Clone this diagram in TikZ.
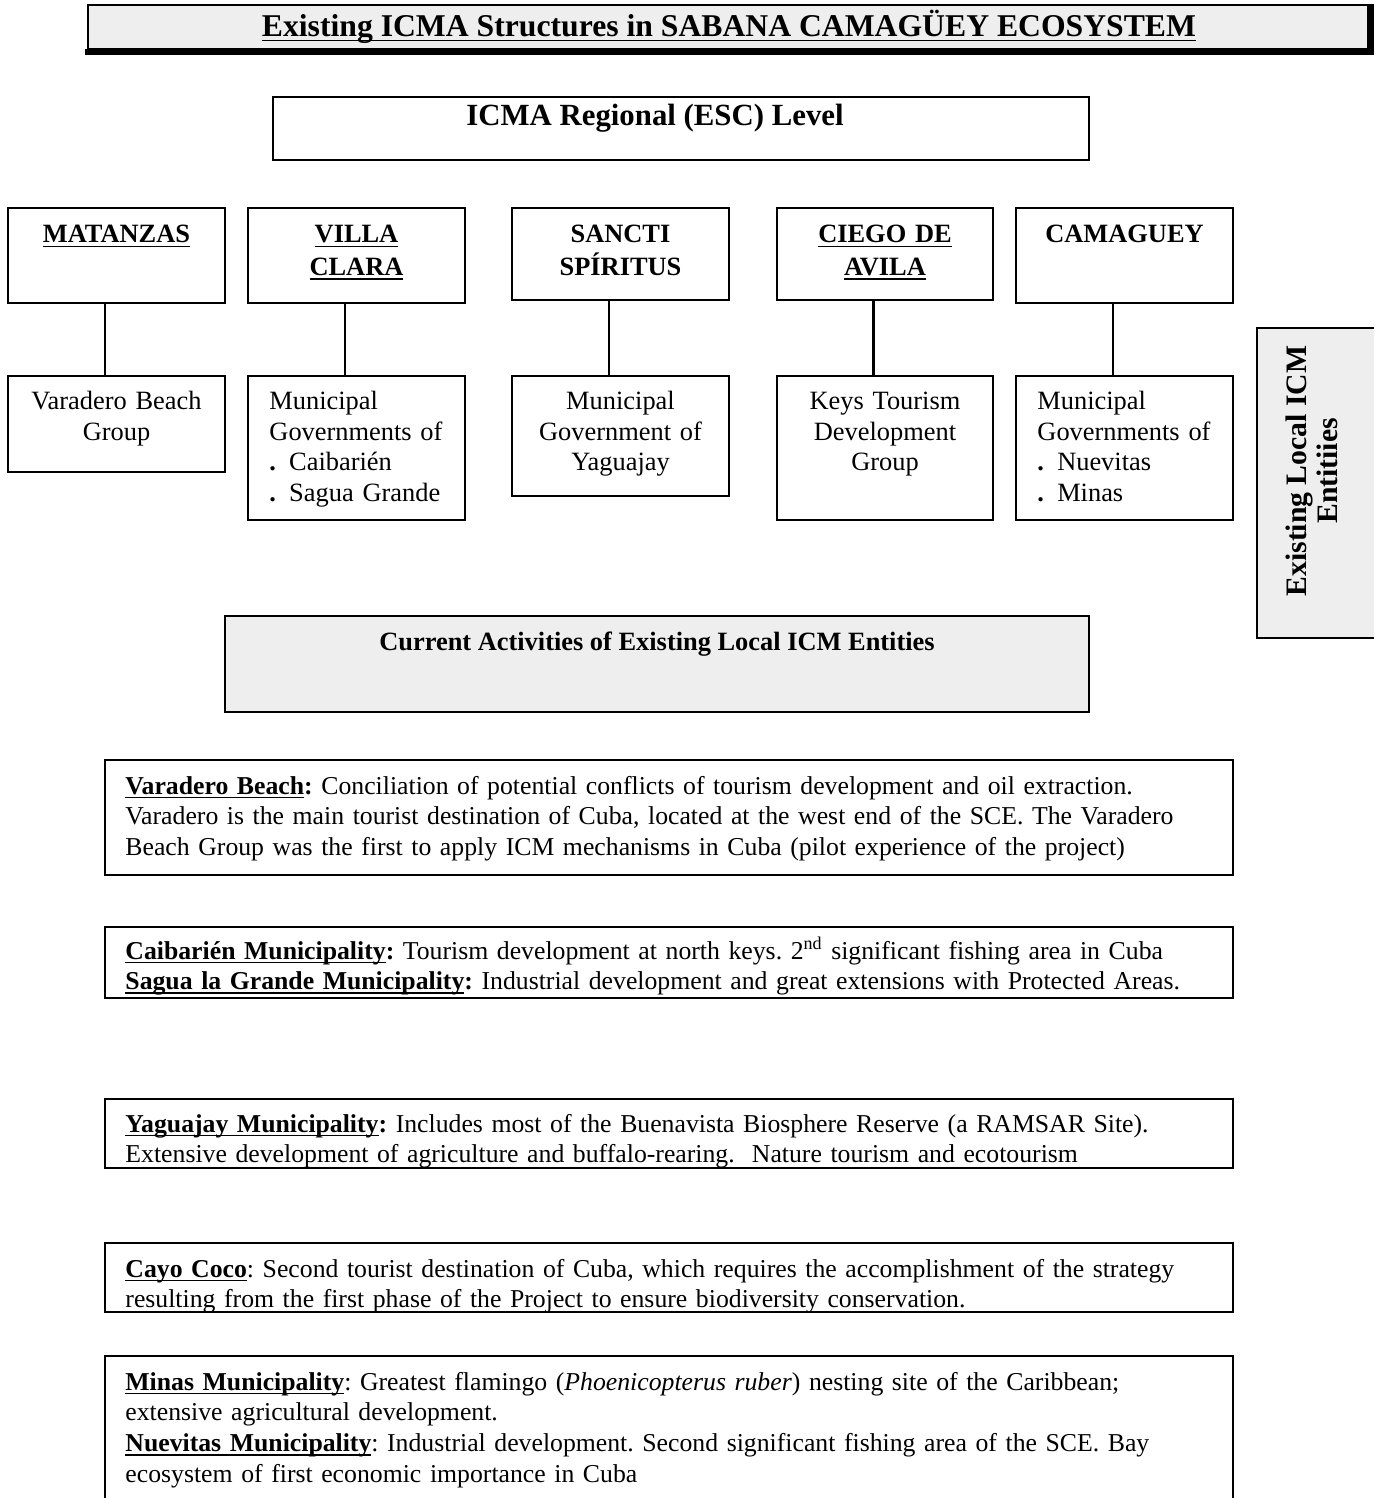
\documentclass[tikz,border=0pt]{standalone}
\usepackage{fontspec}
\setmainfont{Liberation Serif}
\usetikzlibrary{fit}
\definecolor{boxgray}{HTML}{EEEEEE}
\newcommand\myul[1]{\leavevmode\setbox0\hbox{#1}\rlap{\rule[-2pt]{\wd0}{0.8pt}}\box0}
\tikzset{
  px/.style={x=0.4545pt,y=-0.4545pt},
  box/.style={draw=black,line width=1.1pt,inner sep=0pt,fill=white},
  graybox/.style={box,fill=boxgray},
  conn/.style={draw=black,line width=1.1pt},
  txt/.style={font=\fontsize{12}{13.8}\selectfont,inner sep=0pt},
  btxt/.style={inner sep=0pt,font=\fontsize{12}{14.6}\selectfont\bfseries},
  ctxt/.style={txt,text width=200*0.4545pt,align=center,anchor=base},
  ltxt/.style={txt,text width=200*0.4545pt,align=left,anchor=base west},
  hdtxt/.style={btxt,text width=210*0.4545pt,align=center,anchor=base},
  para/.style={inner sep=0pt,font=\fontsize{11.7}{14}\selectfont\frenchspacing,text width=1110*0.4545pt,align=left,anchor=base west},
}
\begin{document}
\begin{tikzpicture}[px]
\useasboundingbox (0,0) rectangle (1374,1498);
% title
\node[fit={(88,5) (1368,49)},inner sep=0pt,fill=boxgray,draw=black,line width=1.1pt] (title) {};
\draw[line width=2.4pt] ([xshift=0.8pt]title.north east) -- ([xshift=0.8pt,yshift=-0.8pt]title.south east) -- ([xshift=-0.8pt,yshift=-0.8pt]title.south west);
\node[font=\fontsize{14.4}{16}\selectfont\bfseries,inner sep=0pt,anchor=base] (titletxt) at (729,37) {\myul{Existing ICMA Structures in SABANA CAMAGÜEY ECOSYSTEM}};
% regional
\node[box,fit={(273,97) (1089,160)}] (reg) {};
\node[btxt,anchor=base,font=\fontsize{14}{16}\selectfont\bfseries] (regtxt) at (655,126) {ICMA Regional (ESC) Level};
% row 1
\node[box,fit={(8,208) (225,303)}] (mat) {};
\node[box,fit={(248,208) (465,303)}] (vc) {};
\node[box,fit={(512,208) (729,300)}] (ss) {};
\node[box,fit={(777,208) (993,300)}] (cda) {};
\node[box,fit={(1016,208) (1233,303)}] (cam) {};
\node[hdtxt] (mattxt) at (116.5,243) {\myul{MATANZAS}};
\node[hdtxt] (vctxt) at (356.5,243) {\myul{VILLA}\\\myul{CLARA}};
\node[hdtxt] (sstxt) at (620.5,243) {SANCTI\\SPÍRITUS};
\node[hdtxt] (cdatxt) at (885,243) {\myul{CIEGO DE}\\\myul{AVILA}};
\node[hdtxt] (camtxt) at (1124.5,243) {CAMAGUEY};
% row 2
\node[box,fit={(8,376) (225,472)}] (matb) {};
\node[box,fit={(248,376) (465,520)}] (vcb) {};
\node[box,fit={(512,376) (729,496)}] (ssb) {};
\node[box,fit={(777,376) (993,520)}] (cdab) {};
\node[box,fit={(1016,376) (1233,520)}] (camb) {};
\node[ctxt] (matbtxt) at (116.5,410) {Varadero Beach\\Group};
\node[ltxt] (vcbtxt) at (269,410) {Municipal\\Governments of\\\textbf{.} Caibarién\\\textbf{.} Sagua Grande};
\node[ctxt] (ssbtxt) at (620.5,410) {Municipal\\Government of\\Yaguajay};
\node[ctxt] (cdabtxt) at (885,410) {Keys Tourism\\Development\\Group};
\node[ltxt] (cambtxt) at (1037,410) {Municipal\\Governments of\\\textbf{.} Nuevitas\\\textbf{.} Minas};
% connectors
\draw[conn] ([xshift=-5.2pt]mat.south) -- ([xshift=-5.2pt]matb.north);
\draw[conn] ([xshift=-5.2pt]vc.south) -- ([xshift=-5.2pt]vcb.north);
\draw[conn] ([xshift=-5.2pt]ss.south) -- ([xshift=-5.2pt]ssb.north);
\draw[conn] ([xshift=-5.2pt]cda.south) -- ([xshift=-5.2pt]cdab.north);
\draw[conn] ([xshift=-5.2pt]cam.south) -- ([xshift=-5.2pt]camb.north);
% side box
\fill[boxgray] (1257,328) rectangle (1374,638);
\coordinate (sidetr) at (1374,328);
\coordinate (sidebr) at (1374,638);
\draw[line width=1.1pt] (sidetr) -- (1257,328) -- (1257,638) -- (sidebr);
\node[rotate=90,align=center,inner sep=0pt,font=\fontsize{13.5}{14}\selectfont\bfseries] (sidetxt) at (1312,471) {Existing Local ICM\\Entitiies};
% current activities
\node[graybox,fit={(225,616) (1089,712)}] (cur) {};
\node[btxt,anchor=base] (curtxt) at (657,650) {Current Activities of Existing Local ICM Entities};
% activity boxes
\node[box,fit={(105,760) (1233,875)}] (a1) {};
\node[box,fit={(105,927) (1233,998)}] (a2) {};
\node[box,fit={(105,1099) (1233,1168)}] (a3) {};
\node[box,fit={(105,1243) (1233,1312)}] (a4) {};
\fill[white] (105,1356) rectangle (1233,1498);
\coordinate (a5bl) at (105,1500);
\coordinate (a5br) at (1233,1500);
\draw[line width=1.1pt] (a5bl) -- (105,1356) -- (1233,1356) -- (a5br);
\node[para] (a1txt) at (125,794) {\textbf{\myul{Varadero Beach}:} Conciliation of potential conflicts of tourism development and oil extraction.\\Varadero is the main tourist destination of Cuba, located at the west end of the SCE. The Varadero\\Beach Group was the first to apply ICM mechanisms in Cuba (pilot experience of the project)};
\node[para] (a2txt) at (125,959) {\textbf{\myul{Caibarién Municipality}:} Tourism development at north keys. 2\textsuperscript{nd} significant fishing area in Cuba\\\textbf{\myul{Sagua la Grande Municipality}:} Industrial development and great extensions with Protected Areas.};
\node[para] (a3txt) at (125,1132) {\textbf{\myul{Yaguajay Municipality}:} Includes most of the Buenavista Biosphere Reserve (a RAMSAR Site).\\Extensive development of agriculture and buffalo-rearing.\ \ Nature tourism and ecotourism};
\node[para] (a4txt) at (125,1277) {\textbf{\myul{Cayo Coco}}: Second tourist destination of Cuba, which requires the accomplishment of the strategy\\resulting from the first phase of the Project to ensure biodiversity conservation.};
\node[para] (a5txt) at (125,1390) {\textbf{\myul{Minas Municipality}}: Greatest flamingo (\textit{Phoenicopterus ruber}) nesting site of the Caribbean;\\extensive agricultural development.\\\textbf{\myul{Nuevitas Municipality}}: Industrial development. Second significant fishing area of the SCE. Bay\\ecosystem of first economic importance in Cuba};
\end{tikzpicture}
\end{document}
